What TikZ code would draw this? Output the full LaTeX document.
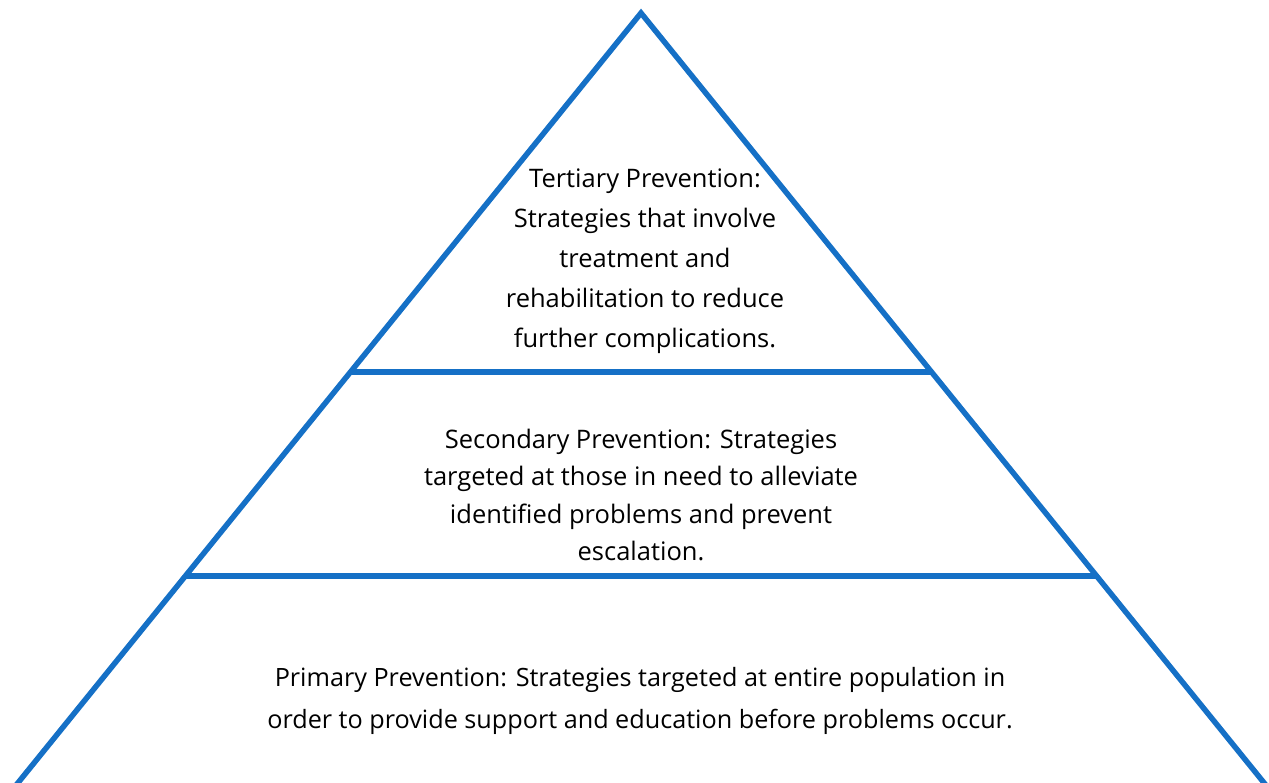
\documentclass[tikz,border=0pt]{standalone}
\usepackage{fontspec}
\setmainfont{Open Sans}
\usetikzlibrary{calc}
\definecolor{pyrblue}{RGB}{21,112,198}
\begin{document}
\begin{tikzpicture}[x=1pt, y=-1pt,
        edge/.style={line width=5.5pt, pyrblue, line join=miter},
        tiertext/.style={align=center, inner sep=0pt, text=black}]
        % Riquadro
        \useasboundingbox (0,0) rectangle (1269,782);
        \clip (0,0) rectangle (1269,782);
        
        % Vertici della piramide
        \coordinate (apex) at (641,13);
        \coordinate (baseL) at (-4,810);
        \coordinate (baseR) at (1286,810);
        
        % Lati
        \draw[edge] (baseL) -- (apex) -- (baseR);
        
        % Separazioni tra i livelli
        \coordinate (topL) at ($(apex)!0.4504!(baseL)$);
        \coordinate (topR) at ($(apex)!0.4504!(baseR)$);
        \coordinate (midL) at ($(apex)!0.7064!(baseL)$);
        \coordinate (midR) at ($(apex)!0.7064!(baseR)$);
        \draw[edge] (topL) -- (topR);
        \draw[edge] (midL) -- (midR);
        
        % Testi dei livelli
        \node[tiertext, font=\fontsize{25.5}{40}\selectfont] (tertiary) at (645,261)
            {Tertiary Prevention:\\Strategies that involve\\treatment and\\rehabilitation to reduce\\further complications.};
        \node[tiertext, font=\fontsize{25.5}{37.5}\selectfont] (secondary) at (641,495)
            {Secondary Prevention: Strategies\\targeted at those in need to alleviate\\identified problems and prevent\\escalation.};
        \node[tiertext, font=\fontsize{25.2}{42}\selectfont] (primary) at (640,701)
            {Primary Prevention: Strategies targeted at entire population in\\order to provide support and education before problems occur.};
        
    \end{tikzpicture}
\end{document}
